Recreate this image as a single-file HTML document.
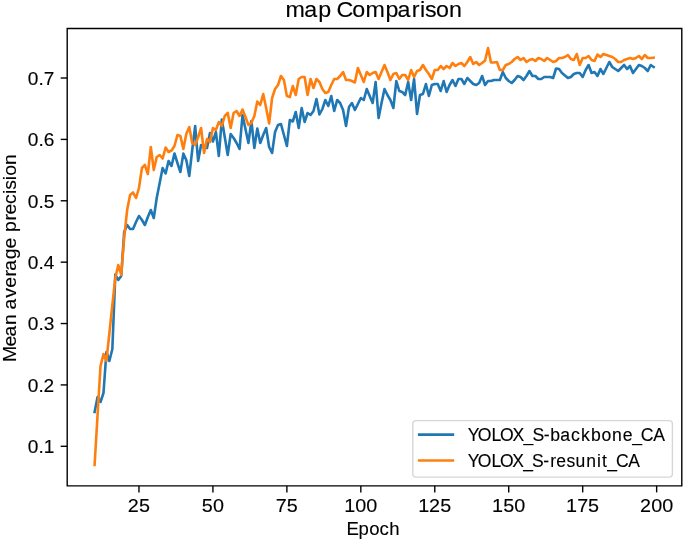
<!DOCTYPE html>
<html><head><meta charset="utf-8"><title>map Comparison</title>
<style>html,body{margin:0;padding:0;background:#fff;width:685px;height:541px;overflow:hidden}svg{display:block;will-change:transform}</style></head>
<body>
<svg width="685" height="541" viewBox="0 0 685 541" font-family="'Liberation Sans', sans-serif">
<rect x="0" y="0" width="685" height="541" fill="#fff"/>
<defs><clipPath id="axc"><rect x="66.65" y="28.5" width="615.00" height="457.50"/></clipPath></defs>
<g clip-path="url(#axc)" fill="none" stroke-width="2.6" stroke-linejoin="round" stroke-linecap="square">
<polyline stroke="#1f77b4" points="94.60,412.00 97.56,397.00 100.52,402.00 103.48,393.00 106.43,352.00 109.39,361.00 112.35,349.00 115.31,274.50 118.27,280.00 121.22,276.00 124.18,232.00 127.14,225.00 130.10,229.00 133.06,229.00 136.01,222.00 138.97,216.00 141.93,220.00 144.89,225.00 147.85,217.00 150.80,210.00 153.76,218.00 156.72,198.00 159.68,183.00 162.64,168.00 165.60,173.50 168.55,161.00 171.51,166.00 174.47,153.50 177.43,163.00 180.39,172.00 183.34,153.60 186.30,160.00 189.26,176.00 192.22,150.00 195.18,126.00 198.13,161.00 201.09,145.00 204.05,147.00 207.01,148.00 209.97,133.00 212.93,141.50 215.88,132.00 218.84,156.00 221.80,119.50 224.76,137.00 227.72,155.00 230.67,134.00 233.63,138.00 236.59,143.00 239.55,149.00 242.51,115.00 245.46,129.00 248.42,143.00 251.38,121.00 254.34,148.00 257.30,128.50 260.25,143.00 263.21,135.00 266.17,128.00 269.13,147.00 272.09,153.00 275.05,132.00 278.00,125.00 280.96,124.00 283.92,135.00 286.88,146.00 289.84,120.00 292.79,121.50 295.75,112.00 298.71,128.00 301.67,108.00 304.63,122.00 307.58,113.00 310.54,115.00 313.50,111.00 316.46,99.00 319.42,114.50 322.37,109.00 325.33,100.00 328.29,106.00 331.25,96.00 334.21,111.00 337.17,100.00 340.12,103.00 343.08,110.00 346.04,126.00 349.00,107.00 351.96,103.00 354.91,110.00 357.87,104.00 360.83,98.00 363.79,100.00 366.75,89.00 369.70,96.00 372.66,103.00 375.62,82.00 378.58,118.00 381.54,103.00 384.49,89.00 387.45,95.00 390.41,100.00 393.37,108.00 396.33,81.00 399.29,91.00 402.24,92.00 405.20,95.00 408.16,82.00 411.12,100.00 414.08,79.00 417.03,114.00 419.99,95.00 422.95,94.00 425.91,84.00 428.87,96.00 431.82,85.00 434.78,84.00 437.74,84.00 440.70,91.00 443.66,81.00 446.61,92.00 449.57,85.00 452.53,80.00 455.49,86.00 458.45,79.00 461.41,79.00 464.36,84.00 467.32,78.00 470.28,81.00 473.24,84.00 476.20,85.00 479.15,83.00 482.11,76.00 485.07,85.00 488.03,81.00 490.99,81.00 493.94,80.00 496.90,80.00 499.86,80.00 502.82,72.00 505.78,78.00 508.73,81.00 511.69,83.00 514.65,80.00 517.61,76.00 520.57,77.00 523.53,80.00 526.48,76.00 529.44,71.00 532.40,76.00 535.36,76.00 538.32,79.00 541.27,79.00 544.23,77.00 547.19,77.00 550.15,77.00 553.11,78.00 556.06,68.50 559.02,69.00 561.98,73.00 564.94,75.50 567.90,78.00 570.86,77.00 573.81,74.00 576.77,73.00 579.73,73.00 582.69,77.00 585.65,70.00 588.60,65.00 591.56,73.00 594.52,72.00 597.48,76.00 600.44,69.00 603.39,74.00 606.35,68.00 609.31,62.00 612.27,67.00 615.23,69.00 618.18,71.00 621.14,68.00 624.10,65.00 627.06,69.00 630.02,66.00 632.98,73.00 635.93,69.00 638.89,65.00 641.85,66.00 644.81,68.00 647.77,71.00 650.72,65.00 653.68,67.00"/>
<polyline stroke="#ff7f0e" points="94.60,465.00 97.56,415.00 100.52,366.00 103.48,354.00 106.43,361.00 109.39,333.00 112.35,305.00 115.31,278.00 118.27,265.00 121.22,275.00 124.18,238.00 127.14,210.00 130.10,195.00 133.06,192.50 136.01,198.00 138.97,188.00 141.93,168.00 144.89,165.00 147.85,174.00 150.80,147.00 153.76,170.00 156.72,157.00 159.68,155.00 162.64,158.50 165.60,147.50 168.55,152.00 171.51,150.50 174.47,146.00 177.43,135.00 180.39,136.00 183.34,149.00 186.30,134.00 189.26,127.00 192.22,143.00 195.18,145.00 198.13,137.00 201.09,128.00 204.05,153.00 207.01,139.00 209.97,142.00 212.93,128.00 215.88,130.00 218.84,122.00 221.80,126.00 224.76,116.00 227.72,113.00 230.67,128.00 233.63,113.00 236.59,111.00 239.55,116.00 242.51,109.50 245.46,117.00 248.42,125.00 251.38,123.00 254.34,116.00 257.30,101.50 260.25,105.00 263.21,94.00 266.17,108.00 269.13,123.50 272.09,98.00 275.05,89.00 278.00,85.00 280.96,76.00 283.92,80.00 286.88,96.00 289.84,97.00 292.79,86.00 295.75,95.00 298.71,79.00 301.67,77.00 304.63,77.00 307.58,95.00 310.54,79.00 313.50,88.00 316.46,79.00 319.42,82.00 322.37,89.00 325.33,93.00 328.29,92.00 331.25,85.00 334.21,79.00 337.17,79.00 340.12,76.00 343.08,72.00 346.04,80.00 349.00,80.00 351.96,81.00 354.91,82.50 357.87,68.00 360.83,75.00 363.79,82.00 366.75,72.00 369.70,75.00 372.66,73.00 375.62,72.00 378.58,79.00 381.54,72.00 384.49,65.00 387.45,72.00 390.41,80.00 393.37,74.00 396.33,73.00 399.29,79.00 402.24,75.00 405.20,75.00 408.16,80.00 411.12,70.00 414.08,77.00 417.03,71.00 419.99,70.00 422.95,65.00 425.91,70.00 428.87,74.00 431.82,79.00 434.78,70.00 437.74,70.00 440.70,66.00 443.66,69.00 446.61,66.00 449.57,68.00 452.53,63.00 455.49,66.00 458.45,64.00 461.41,63.00 464.36,66.00 467.32,62.00 470.28,57.00 473.24,64.00 476.20,62.00 479.15,65.00 482.11,63.00 485.07,60.50 488.03,48.00 490.99,62.50 493.94,62.50 496.90,62.00 499.86,70.00 502.82,70.00 505.78,65.00 508.73,64.00 511.69,62.00 514.65,59.00 517.61,57.00 520.57,60.00 523.53,58.00 526.48,62.00 529.44,60.00 532.40,59.00 535.36,61.00 538.32,58.00 541.27,59.00 544.23,61.00 547.19,58.00 550.15,60.00 553.11,62.00 556.06,61.00 559.02,58.00 561.98,58.00 564.94,57.00 567.90,55.00 570.86,59.00 573.81,60.00 576.77,54.00 579.73,65.00 582.69,58.00 585.65,58.00 588.60,56.00 591.56,60.00 594.52,61.00 597.48,54.50 600.44,57.00 603.39,54.00 606.35,55.00 609.31,56.00 612.27,57.00 615.23,59.00 618.18,62.00 621.14,62.00 624.10,60.00 627.06,59.00 630.02,58.00 632.98,59.00 635.93,58.00 638.89,56.00 641.85,59.00 644.81,55.00 647.77,58.00 650.72,58.00 653.68,57.70"/>
</g>
<g stroke="#000" stroke-width="1.39" fill="none" stroke-linecap="square">
<path d="M67.2,485.9V28.5H681.8V485.9Z"/>
<path d="M138.97,485.9v6.5" stroke-linecap="butt"/>
<path d="M212.93,485.9v6.5" stroke-linecap="butt"/>
<path d="M286.88,485.9v6.5" stroke-linecap="butt"/>
<path d="M360.83,485.9v6.5" stroke-linecap="butt"/>
<path d="M434.78,485.9v6.5" stroke-linecap="butt"/>
<path d="M508.73,485.9v6.5" stroke-linecap="butt"/>
<path d="M582.69,485.9v6.5" stroke-linecap="butt"/>
<path d="M656.64,485.9v6.5" stroke-linecap="butt"/>
<path d="M67.2,446.30h-6.5" stroke-linecap="butt"/>
<path d="M67.2,384.92h-6.5" stroke-linecap="butt"/>
<path d="M67.2,323.54h-6.5" stroke-linecap="butt"/>
<path d="M67.2,262.16h-6.5" stroke-linecap="butt"/>
<path d="M67.2,200.78h-6.5" stroke-linecap="butt"/>
<path d="M67.2,139.40h-6.5" stroke-linecap="butt"/>
<path d="M67.2,78.02h-6.5" stroke-linecap="butt"/>
</g>
<g>
<text transform="translate(129.23,511.90) scale(1.0795,1)" x="-1.39 8.96" font-size="18.33" fill="#000" stroke="#000" stroke-width="0.12">25</text>
<text transform="translate(203.25,511.90) scale(1.0795,1)" x="-1.30 8.96" font-size="18.33" fill="#000" stroke="#000" stroke-width="0.12">50</text>
<text transform="translate(277.29,511.90) scale(1.0795,1)" x="-1.35 8.82" font-size="18.33" fill="#000" stroke="#000" stroke-width="0.12">75</text>
<text transform="translate(346.22,511.90) scale(1.0795,1)" x="-1.87 8.43 18.63" font-size="18.33" fill="#000" stroke="#000" stroke-width="0.12">100</text>
<text transform="translate(420.17,511.90) scale(1.0795,1)" x="-1.87 8.22 18.57" font-size="18.33" fill="#000" stroke="#000" stroke-width="0.12">125</text>
<text transform="translate(494.13,511.90) scale(1.0795,1)" x="-1.87 8.37 18.63" font-size="18.33" fill="#000" stroke="#000" stroke-width="0.12">150</text>
<text transform="translate(568.08,511.90) scale(1.0795,1)" x="-1.87 8.40 18.57" font-size="18.33" fill="#000" stroke="#000" stroke-width="0.12">175</text>
<text transform="translate(641.40,511.90) scale(1.0795,1)" x="-1.39 9.02 19.21" font-size="18.33" fill="#000" stroke="#000" stroke-width="0.12">200</text>
<text transform="translate(28.96,453.20) scale(1.0795,1)" x="-1.02 8.81 13.63" font-size="17.70" fill="#000" stroke="#000" stroke-width="0.12">0.1</text>
<text transform="translate(28.96,391.82) scale(1.0795,1)" x="-1.02 8.81 13.53" font-size="17.70" fill="#000" stroke="#000" stroke-width="0.12">0.2</text>
<text transform="translate(28.96,330.44) scale(1.0795,1)" x="-1.02 8.81 13.76" font-size="17.70" fill="#000" stroke="#000" stroke-width="0.12">0.3</text>
<text transform="translate(28.96,269.06) scale(1.0795,1)" x="-1.02 8.81 13.74" font-size="17.70" fill="#000" stroke="#000" stroke-width="0.12">0.4</text>
<text transform="translate(28.96,207.68) scale(1.0795,1)" x="-1.02 8.81 13.68" font-size="17.70" fill="#000" stroke="#000" stroke-width="0.12">0.5</text>
<text transform="translate(28.96,146.30) scale(1.0795,1)" x="-1.02 8.81 13.73" font-size="17.70" fill="#000" stroke="#000" stroke-width="0.12">0.6</text>
<text transform="translate(28.96,84.92) scale(1.0795,1)" x="-1.02 8.81 13.70" font-size="17.70" fill="#000" stroke="#000" stroke-width="0.12">0.7</text>
</g>
<text transform="translate(286.90,16.90) scale(1.0805,1)" x="-1.30 16.13 28.97 41.01 45.88 60.37 72.68 91.17 102.30 115.63 123.11 127.93 138.08 150.08" font-size="21.52" fill="#000" stroke="#000" stroke-width="0.12">map Comparison</text>
<text transform="translate(349.00,534.80) scale(1.0190,1)" x="-2.47 9.39 19.81 29.92 39.60" font-size="18.22" fill="#000" stroke="#000" stroke-width="0.12">Epoch</text>
<text transform="translate(15.90,359.60) rotate(-90) scale(1.0598,1)" x="-2.19 12.46 21.82 32.68 42.98 47.39 58.39 67.77 78.46 83.85 94.60 104.94 115.09 120.41 131.20 136.92 146.72 156.24 160.34 169.30 173.50 183.71" font-size="18.36" fill="#000" stroke="#000" stroke-width="0.12">Mean average precision</text>
<rect x="412.8" y="420.6" width="259.60" height="56.50" rx="3.4" ry="3.4" fill="#fff" fill-opacity="0.8" stroke="#ccc" stroke-opacity="0.8" stroke-width="1.39"/>
<g stroke-width="2.6" stroke-linecap="square">
<path d="M419.2,434.6H452.9" stroke="#1f77b4"/>
<path d="M419.2,460.5H452.9" stroke="#ff7f0e"/>
</g>
<text transform="translate(468.40,440.80) scale(0.9765,1)" x="-0.66 9.59 23.70 32.44 45.15 56.56 65.53 77.15 83.94 94.07 105.17 115.38 125.44 136.22 147.13 158.03 167.77 176.60 189.27" font-size="18.07" fill="#000" stroke="#000" stroke-width="0.12">YOLOX_S-backbone_CA</text>
<text transform="translate(468.40,466.60) scale(0.9760,1)" x="-0.65 9.54 23.57 32.26 44.90 56.25 65.16 76.71 83.76 89.97 100.43 109.79 120.87 131.76 137.02 142.35 151.13 163.72" font-size="17.96" fill="#000" stroke="#000" stroke-width="0.12">YOLOX_S-resunit_CA</text>
</svg>
</body></html>
